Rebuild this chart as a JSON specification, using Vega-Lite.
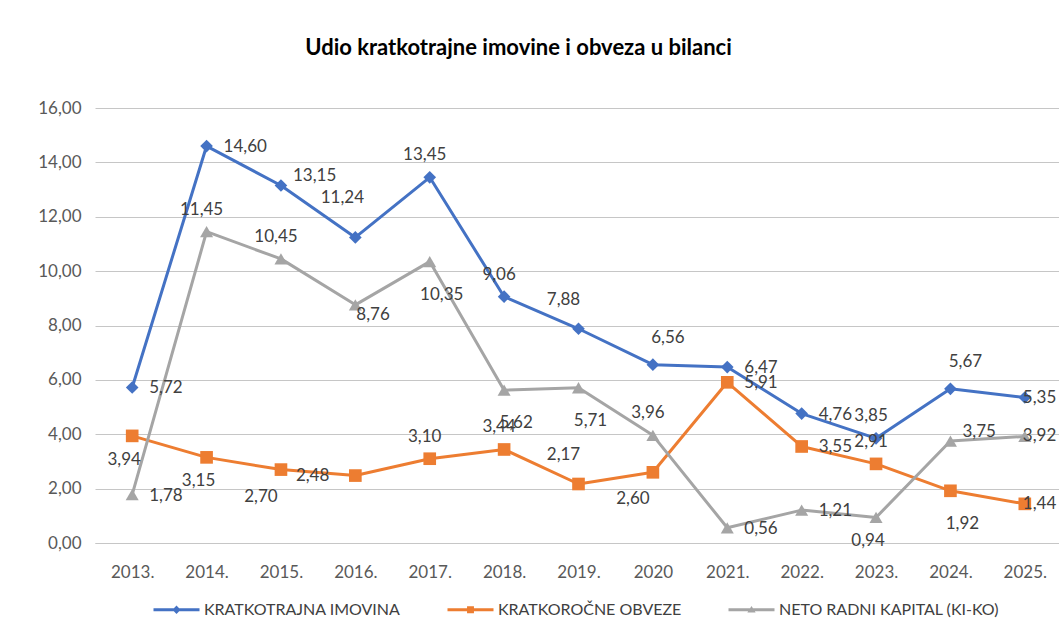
{
  "$schema": "https://vega.github.io/schema/vega-lite/v6.json",
  "width": 967,
  "height": 435,
  "autosize": {"type": "none"},
  "padding": {"left": 95, "top": 108, "right": 0, "bottom": 101},
  "background": "white",
  "config": {
    "font": "Lato",
    "locale": {"number": {"decimal": ",", "thousands": ".", "grouping": [3], "currency": ["", ""]}},
    "view": {"stroke": null}
  },
  "title": {
    "text": "Udio kratkotrajne  imovine i obveza u bilanci",
    "fontSize": 22,
    "fontWeight": "bold",
    "font": "Lato",
    "color": "#000000",
    "anchor": "middle",
    "frame": "group",
    "dx": -60,
    "offset": 39
  },
  "data": {
    "values": [
      {"year": "2013.", "series": "KRATKOTRAJNA IMOVINA", "value": 5.72},
      {"year": "2014.", "series": "KRATKOTRAJNA IMOVINA", "value": 14.60},
      {"year": "2015.", "series": "KRATKOTRAJNA IMOVINA", "value": 13.15},
      {"year": "2016.", "series": "KRATKOTRAJNA IMOVINA", "value": 11.24},
      {"year": "2017.", "series": "KRATKOTRAJNA IMOVINA", "value": 13.45},
      {"year": "2018.", "series": "KRATKOTRAJNA IMOVINA", "value": 9.06},
      {"year": "2019.", "series": "KRATKOTRAJNA IMOVINA", "value": 7.88},
      {"year": "2020", "series": "KRATKOTRAJNA IMOVINA", "value": 6.56},
      {"year": "2021.", "series": "KRATKOTRAJNA IMOVINA", "value": 6.47},
      {"year": "2022.", "series": "KRATKOTRAJNA IMOVINA", "value": 4.76},
      {"year": "2023.", "series": "KRATKOTRAJNA IMOVINA", "value": 3.85},
      {"year": "2024.", "series": "KRATKOTRAJNA IMOVINA", "value": 5.67},
      {"year": "2025.", "series": "KRATKOTRAJNA IMOVINA", "value": 5.35},
      {"year": "2013.", "series": "KRATKOROČNE OBVEZE", "value": 3.94},
      {"year": "2014.", "series": "KRATKOROČNE OBVEZE", "value": 3.15},
      {"year": "2015.", "series": "KRATKOROČNE OBVEZE", "value": 2.70},
      {"year": "2016.", "series": "KRATKOROČNE OBVEZE", "value": 2.48},
      {"year": "2017.", "series": "KRATKOROČNE OBVEZE", "value": 3.10},
      {"year": "2018.", "series": "KRATKOROČNE OBVEZE", "value": 3.44},
      {"year": "2019.", "series": "KRATKOROČNE OBVEZE", "value": 2.17},
      {"year": "2020", "series": "KRATKOROČNE OBVEZE", "value": 2.60},
      {"year": "2021.", "series": "KRATKOROČNE OBVEZE", "value": 5.91},
      {"year": "2022.", "series": "KRATKOROČNE OBVEZE", "value": 3.55},
      {"year": "2023.", "series": "KRATKOROČNE OBVEZE", "value": 2.91},
      {"year": "2024.", "series": "KRATKOROČNE OBVEZE", "value": 1.92},
      {"year": "2025.", "series": "KRATKOROČNE OBVEZE", "value": 1.44},
      {"year": "2013.", "series": "NETO RADNI KAPITAL (KI-KO)", "value": 1.78},
      {"year": "2014.", "series": "NETO RADNI KAPITAL (KI-KO)", "value": 11.45},
      {"year": "2015.", "series": "NETO RADNI KAPITAL (KI-KO)", "value": 10.45},
      {"year": "2016.", "series": "NETO RADNI KAPITAL (KI-KO)", "value": 8.76},
      {"year": "2017.", "series": "NETO RADNI KAPITAL (KI-KO)", "value": 10.35},
      {"year": "2018.", "series": "NETO RADNI KAPITAL (KI-KO)", "value": 5.62},
      {"year": "2019.", "series": "NETO RADNI KAPITAL (KI-KO)", "value": 5.71},
      {"year": "2020", "series": "NETO RADNI KAPITAL (KI-KO)", "value": 3.96},
      {"year": "2021.", "series": "NETO RADNI KAPITAL (KI-KO)", "value": 0.56},
      {"year": "2022.", "series": "NETO RADNI KAPITAL (KI-KO)", "value": 1.21},
      {"year": "2023.", "series": "NETO RADNI KAPITAL (KI-KO)", "value": 0.94},
      {"year": "2024.", "series": "NETO RADNI KAPITAL (KI-KO)", "value": 3.75},
      {"year": "2025.", "series": "NETO RADNI KAPITAL (KI-KO)", "value": 3.92}
    ]
  },
  "transform": [
    {"calculate": "datum.series === 'KRATKOTRAJNA IMOVINA' ? 'KI' : datum.series === 'KRATKOROČNE OBVEZE' ? 'KO' : 'NR'", "as": "c"},
    {"calculate": "datum.c + datum.year", "as": "k"}
  ],
  "encoding": {
    "x": {
      "field": "year",
      "type": "ordinal",
      "sort": null,
      "scale": {"type": "point", "padding": 0.5},
      "axis": {
        "title": null,
        "labelAngle": 0,
        "labelFontSize": 17,
        "labelColor": "#595959",
        "ticks": false,
        "domain": true,
        "domainColor": "#c6c6c6",
        "domainWidth": 1,
        "labelPadding": 21,
        "grid": false
      }
    },
    "y": {
      "field": "value",
      "type": "quantitative",
      "scale": {"domain": [0, 16], "nice": false},
      "axis": {
        "title": null,
        "values": [0, 2, 4, 6, 8, 10, 12, 14, 16],
        "format": ".2f",
        "labelFontSize": 17,
        "labelColor": "#595959",
        "ticks": false,
        "domain": false,
        "grid": true,
        "gridColor": "#c6c6c6",
        "gridWidth": 1,
        "labelPadding": 14
      }
    }
  },
  "layer": [
    {
      "mark": {"type": "line", "strokeWidth": 3, "strokeJoin": "round"},
      "encoding": {
        "color": {
          "field": "series",
          "type": "nominal",
          "scale": {
            "domain": ["KRATKOTRAJNA IMOVINA", "KRATKOROČNE OBVEZE", "NETO RADNI KAPITAL (KI-KO)"],
            "range": ["#4472C4", "#ED7D31", "#A5A5A5"]
          },
          "legend": {
            "orient": "none",
            "legendX": 70,
            "legendY": 490,
            "direction": "horizontal",
            "title": null,
            "labelFontSize": 16,
            "labelColor": "#404040",
            "labelFont": "Lato",
            "labelLimit": 500,
            "symbolSize": 529,
            "labelOffset": 16,
            "columnPadding": 46,
            "symbolType": "M-2,-0.13H2V0.13H-2Z",
            "encode": {
              "symbols": {
                "update": {
                  "shape": {"signal": "datum.value === 'KRATKOTRAJNA IMOVINA' ? 'M-2,-0.13H2V0.13H-2Z M0,-0.36L0.36,0L0,0.36L-0.36,0Z' : datum.value === 'KRATKOROČNE OBVEZE' ? 'M-2,-0.13H2V0.13H-2Z M-0.3,-0.3H0.3V0.3H-0.3Z' : 'M-2,-0.13H2V0.13H-2Z M0,-0.32L0.36,0.24H-0.36Z'"},
                  "fill": {"scale": "color", "field": "value"},
                  "fillOpacity": {"value": 1},
                  "opacity": {"value": 1},
                  "strokeWidth": {"value": 0}
                }
              }
            }
          }
        }
      }
    },
    {
      "transform": [{"filter": "datum.c === 'KI'"}],
      "mark": {"type": "point", "filled": true, "opacity": 1, "size": 160, "shape": "diamond"},
      "encoding": {"color": {"field": "series", "type": "nominal", "legend": null}}
    },
    {
      "transform": [{"filter": "datum.c === 'KO'"}],
      "mark": {"type": "point", "filled": true, "opacity": 1, "size": 160, "shape": "square"},
      "encoding": {"color": {"field": "series", "type": "nominal", "legend": null}}
    },
    {
      "transform": [{"filter": "datum.c === 'NR'"}],
      "mark": {"type": "point", "filled": true, "opacity": 1, "size": 170, "shape": "triangle-up"},
      "encoding": {"color": {"field": "series", "type": "nominal", "legend": null}}
    },
    {
      "transform": [{"filter": "indexof(['KI2013.','KI2014.','KI2021.','KI2022.','KO2021.','KO2022.','NR2013.','NR2021.','NR2022.'], datum.k) >= 0"}],
      "mark": {"type": "text", "align": "left", "baseline": "middle", "dx": 17, "dy": 1, "fontSize": 17, "color": "#404040"},
      "encoding": {"text": {"field": "value", "type": "quantitative", "format": ".2f"}}
    },
    {
      "transform": [{"filter": "indexof(['KI2015.','NR2024.'], datum.k) >= 0"}],
      "mark": {"type": "text", "align": "left", "baseline": "middle", "dx": 12, "dy": -9, "fontSize": 17, "color": "#404040"},
      "encoding": {"text": {"field": "value", "type": "quantitative", "format": ".2f"}}
    },
    {
      "transform": [{"filter": "indexof(['KI2017.','KI2018.','KI2023.','KO2017.','KO2018.','KO2023.','NR2014.','NR2015.','NR2020'], datum.k) >= 0"}],
      "mark": {"type": "text", "align": "center", "baseline": "middle", "dx": -5, "dy": -22, "fontSize": 17, "color": "#404040"},
      "encoding": {"text": {"field": "value", "type": "quantitative", "format": ".2f"}}
    },
    {
      "transform": [{"filter": "indexof(['KI2020','KI2024.'], datum.k) >= 0"}],
      "mark": {"type": "text", "align": "center", "baseline": "middle", "dx": 15, "dy": -27, "fontSize": 17, "color": "#404040"},
      "encoding": {"text": {"field": "value", "type": "quantitative", "format": ".2f"}}
    },
    {
      "transform": [{"filter": "indexof(['KI2019.','KO2019.'], datum.k) >= 0"}],
      "mark": {"type": "text", "align": "center", "baseline": "middle", "dx": -15, "dy": -29, "fontSize": 17, "color": "#404040"},
      "encoding": {"text": {"field": "value", "type": "quantitative", "format": ".2f"}}
    },
    {
      "transform": [{"filter": "indexof(['KI2016.'], datum.k) >= 0"}],
      "mark": {"type": "text", "align": "center", "baseline": "middle", "dx": -13, "dy": -39, "fontSize": 17, "color": "#404040"},
      "encoding": {"text": {"field": "value", "type": "quantitative", "format": ".2f"}}
    },
    {
      "transform": [{"filter": "indexof(['KO2013.','KO2014.','NR2023.'], datum.k) >= 0"}],
      "mark": {"type": "text", "align": "center", "baseline": "middle", "dx": -8, "dy": 24, "fontSize": 17, "color": "#404040"},
      "encoding": {"text": {"field": "value", "type": "quantitative", "format": ".2f"}}
    },
    {
      "transform": [{"filter": "indexof(['KO2015.','KO2020'], datum.k) >= 0"}],
      "mark": {"type": "text", "align": "center", "baseline": "middle", "dx": -20, "dy": 27, "fontSize": 17, "color": "#404040"},
      "encoding": {"text": {"field": "value", "type": "quantitative", "format": ".2f"}}
    },
    {
      "transform": [{"filter": "indexof(['NR2017.','NR2018.','NR2019.','KO2024.'], datum.k) >= 0"}],
      "mark": {"type": "text", "align": "center", "baseline": "middle", "dx": 12, "dy": 33, "fontSize": 17, "color": "#404040"},
      "encoding": {"text": {"field": "value", "type": "quantitative", "format": ".2f"}}
    },
    {
      "transform": [{"filter": "indexof(['NR2016.'], datum.k) >= 0"}],
      "mark": {"type": "text", "align": "left", "baseline": "middle", "dx": 1, "dy": 10, "fontSize": 17, "color": "#404040"},
      "encoding": {"text": {"field": "value", "type": "quantitative", "format": ".2f"}}
    },
    {
      "transform": [{"filter": "indexof(['KO2016.'], datum.k) >= 0"}],
      "mark": {"type": "text", "align": "right", "baseline": "middle", "dx": -26, "dy": 0, "fontSize": 17, "color": "#404040"},
      "encoding": {"text": {"field": "value", "type": "quantitative", "format": ".2f"}}
    },
    {
      "transform": [{"filter": "indexof(['KI2025.','KO2025.','NR2025.'], datum.k) >= 0"}],
      "mark": {"type": "text", "align": "left", "baseline": "middle", "dx": -2, "dy": 0, "fontSize": 17, "color": "#404040"},
      "encoding": {"text": {"field": "value", "type": "quantitative", "format": ".2f"}}
    }
  ]
}
